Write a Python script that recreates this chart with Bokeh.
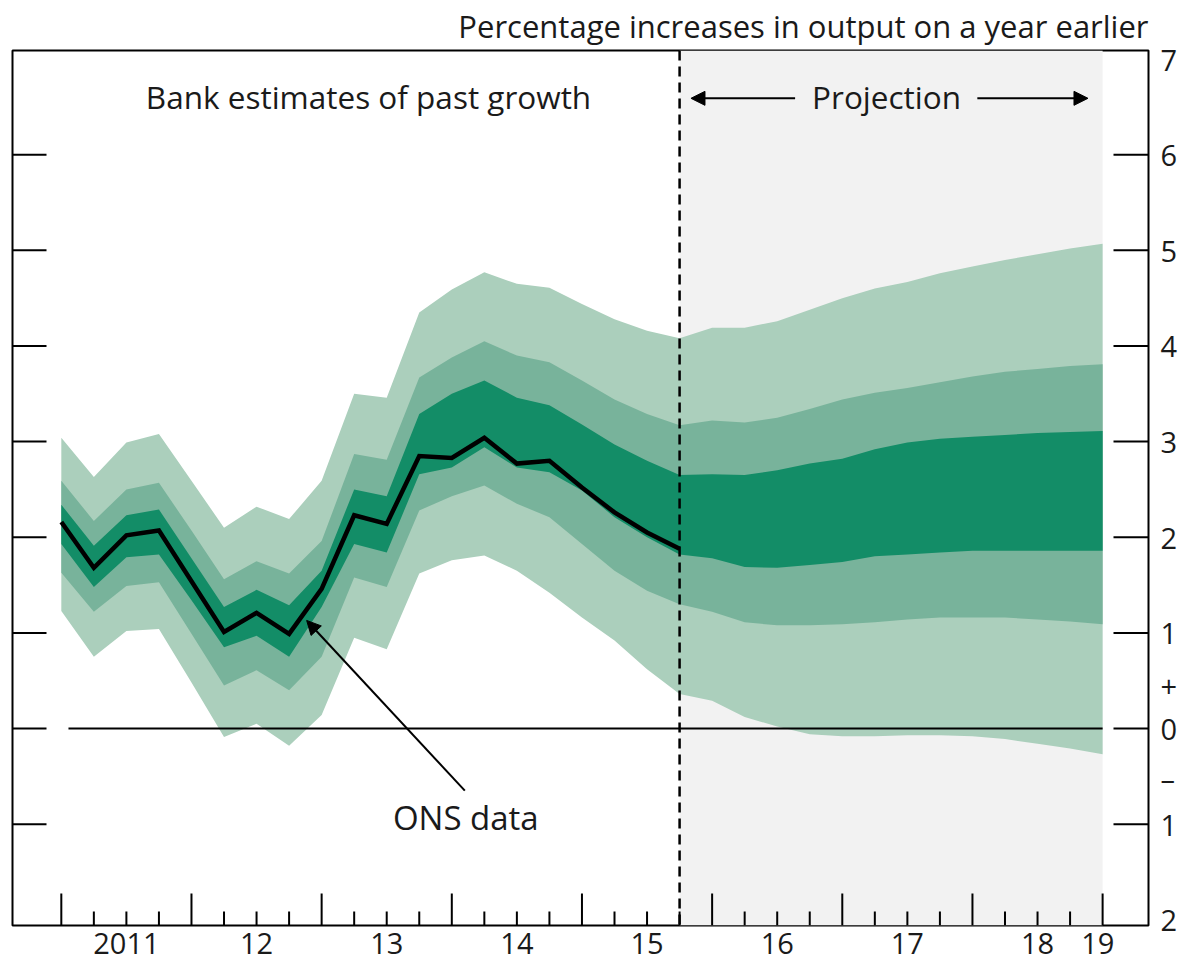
from bokeh.plotting import figure
from bokeh.models import (LinearAxis, FixedTicker, Range1d, Span, BoxAnnotation,
                          Arrow, NormalHead, Label, Title)
from bokeh.embed import file_html
from bokeh.resources import INLINE

# ---------------- data ----------------
# quarter index: 0 = first quarter shown (2011), 32 = 2019
quarters = list(range(33))
ons_quarters = list(range(20))
ons_data = [2.16, 1.68, 2.02, 2.07, 1.54, 1.01, 1.21, 0.99, 1.46, 2.23,
            2.14, 2.85, 2.83, 3.04, 2.77, 2.80, 2.52, 2.26, 2.05, 1.88]

outer_upper = [3.04, 2.63, 2.99, 3.08, 2.59, 2.10, 2.32, 2.19, 2.59, 3.50,
               3.46, 4.35, 4.59, 4.77, 4.65, 4.61, 4.44, 4.28, 4.16, 4.08,
               4.19, 4.19, 4.26, 4.38, 4.50, 4.60, 4.67, 4.76, 4.83, 4.90,
               4.96, 5.02, 5.07]
mid_upper = [2.59, 2.17, 2.50, 2.57, 2.07, 1.56, 1.75, 1.62, 1.96, 2.87,
             2.81, 3.67, 3.88, 4.05, 3.90, 3.83, 3.64, 3.44, 3.29, 3.17,
             3.22, 3.20, 3.25, 3.34, 3.44, 3.51, 3.56, 3.62, 3.68, 3.73,
             3.76, 3.79, 3.81]
inner_upper = [2.34, 1.91, 2.23, 2.29, 1.78, 1.27, 1.45, 1.29, 1.65, 2.50,
               2.43, 3.29, 3.50, 3.64, 3.46, 3.38, 3.18, 2.97, 2.80, 2.65,
               2.66, 2.65, 2.70, 2.77, 2.82, 2.92, 2.99, 3.03, 3.05, 3.07,
               3.09, 3.10, 3.11]
inner_lower = [1.93, 1.48, 1.79, 1.82, 1.34, 0.85, 0.97, 0.75, 1.27, 1.93,
               1.84, 2.66, 2.73, 2.94, 2.73, 2.68, 2.49, 2.21, 2.00, 1.82,
               1.78, 1.69, 1.68, 1.71, 1.74, 1.80, 1.82, 1.84, 1.86, 1.86,
               1.86, 1.86, 1.86]
mid_lower = [1.63, 1.22, 1.49, 1.53, 0.99, 0.45, 0.61, 0.40, 0.75, 1.58,
             1.48, 2.28, 2.43, 2.54, 2.35, 2.21, 1.93, 1.65, 1.44, 1.30,
             1.22, 1.11, 1.08, 1.08, 1.09, 1.11, 1.14, 1.16, 1.16, 1.16,
             1.14, 1.12, 1.09]
outer_lower = [1.23, 0.75, 1.02, 1.04, 0.48, -0.09, 0.05, -0.18, 0.14, 0.95,
               0.83, 1.62, 1.76, 1.81, 1.65, 1.42, 1.16, 0.92, 0.62, 0.36,
               0.29, 0.12, 0.02, -0.06, -0.08, -0.08, -0.07, -0.07, -0.08, -0.11,
               -0.16, -0.21, -0.27]

year_ticks = [0, 4, 8, 12, 16, 20, 24, 28, 32]
minor_quarters = [q for q in quarters if q % 4 != 0]
year_label_pos = [2, 6, 10, 14, 18, 22, 26, 30, 31.85]
year_labels = ["2011", "12", "13", "14", "15", "16", "17", "18", "19"]
y_ticks = [-1, 0, 1, 2, 3, 4, 5, 6]
y_label_pos = [-2, -1, -0.52, 0, 0.45, 1, 2, 3, 4, 5, 6, 7]
y_labels = ["2", "1", "\u2013", "0", "+", "1", "2", "3", "4", "5", "6", "7"]
projection_start = 19
projection_end = 32

# ---------------- style ----------------
FONT = "Open Sans"
TXT = "#1a1a1a"
LIGHT = "#abcfbc"
MEDIUM = "#78b39b"
DARK = "#138d67"
GREY = "#f2f2f2"

X0, X1 = -1.5, 33.41
Y0, Y1 = -2.06, 7.09
FW, FH = 1136, 875
PX_X = (X1 - X0) / FW      # data units per pixel
PX_Y = (Y1 - Y0) / FH

p = figure(frame_width=FW, frame_height=FH,
           x_range=Range1d(X0, X1), y_range=Range1d(Y0, Y1),
           output_backend="svg", toolbar_location=None,
           x_axis_type=None, y_axis_type=None,
           min_border_left=12, min_border_top=50, min_border_right=5,
           min_border_bottom=48)
p.background_fill_color = "white"
p.border_fill_color = "white"
p.outline_line_color = "black"
p.outline_line_width = 2
p.xgrid.visible = False
p.ygrid.visible = False

p.title = Title(text="Percentage increases in output on a year earlier",
                align="right", vertical_align="top", text_font=FONT,
                text_font_size="31px", text_font_style="normal",
                text_color=TXT, standoff=4, offset=0)

# projection shading
p.add_layout(BoxAnnotation(left=projection_start, right=projection_end,
                           fill_color=GREY, fill_alpha=1, line_color=None,
                           level="underlay"))

# fan
p.varea(x=quarters, y1=outer_lower, y2=outer_upper, fill_color=LIGHT)
p.varea(x=quarters, y1=mid_lower, y2=mid_upper, fill_color=MEDIUM)
p.varea(x=quarters, y1=inner_lower, y2=inner_upper, fill_color=DARK)

# zero line
p.segment(x0=[0.22], y0=[0], x1=[projection_end], y1=[0],
          line_color="black", line_width=2)

# ONS line
p.line(ons_quarters, ons_data, line_color="black", line_width=4.5,
       line_join="miter")

# projection divider
p.add_layout(Span(location=projection_start, dimension="height",
                  line_color="black", line_width=2.5, line_dash="10 6"))

# ---- inward ticks (drawn through the data scales) ----
p.segment(x0=[X0] * len(y_ticks), y0=y_ticks, x1=[X0 + 34 * PX_X] * len(y_ticks),
          y1=y_ticks, line_color="black", line_width=2)
p.segment(x0=[X1 - 35 * PX_X] * len(y_ticks), y0=y_ticks, x1=[X1] * len(y_ticks),
          y1=y_ticks, line_color="black", line_width=2)
p.segment(x0=year_ticks, y0=[Y0] * len(year_ticks), x1=year_ticks,
          y1=[Y0 + 32 * PX_Y] * len(year_ticks), line_color="black", line_width=2)
p.segment(x0=minor_quarters, y0=[Y0] * len(minor_quarters), x1=minor_quarters,
          y1=[Y0 + 14 * PX_Y] * len(minor_quarters), line_color="black", line_width=2)

# ---- label-only axes ----
def label_axis(ticker, labels, standoff):
    return LinearAxis(ticker=ticker, major_tick_in=0, major_tick_out=0,
                      minor_tick_in=0, minor_tick_out=0,
                      axis_line_color=None, major_tick_line_color=None,
                      minor_tick_line_color=None,
                      major_label_overrides=labels,
                      major_label_standoff=standoff,
                      major_label_text_font=FONT,
                      major_label_text_font_size="29px",
                      major_label_text_color=TXT)

p.add_layout(label_axis(FixedTicker(ticks=y_label_pos),
                        dict(zip(y_label_pos, y_labels)), 12), "right")
p.add_layout(label_axis(FixedTicker(ticks=year_label_pos),
                        dict(zip(year_label_pos, year_labels)), 7), "below")

# annotations
p.add_layout(Label(x=9.44, y=6.61, text="Bank estimates of past growth",
                   text_font=FONT, text_font_size="31.5px", text_align="center",
                   text_baseline="middle", text_color=TXT))
p.add_layout(Label(x=25.36, y=6.61, text="Projection",
                   text_font=FONT, text_font_size="31.5px", text_align="center",
                   text_baseline="middle", text_color=TXT))
p.add_layout(Arrow(x_start=22.55, y_start=6.59, x_end=19.35, y_end=6.59,
                   line_color="black", line_width=2,
                   end=NormalHead(size=14, fill_color="black", line_color="black")))
p.add_layout(Arrow(x_start=28.15, y_start=6.59, x_end=31.55, y_end=6.59,
                   line_color="black", line_width=2,
                   end=NormalHead(size=14, fill_color="black", line_color="black")))

p.add_layout(Label(x=12.43, y=-0.93, text="ONS data",
                   text_font=FONT, text_font_size="33px", text_align="center",
                   text_baseline="middle", text_color=TXT))
p.add_layout(Arrow(x_start=12.4, y_start=-0.65, x_end=7.54, y_end=1.13,
                   line_color="black", line_width=2,
                   end=NormalHead(size=14, fill_color="black", line_color="black")))

open("out.html", "w").write(file_html(p, INLINE))
